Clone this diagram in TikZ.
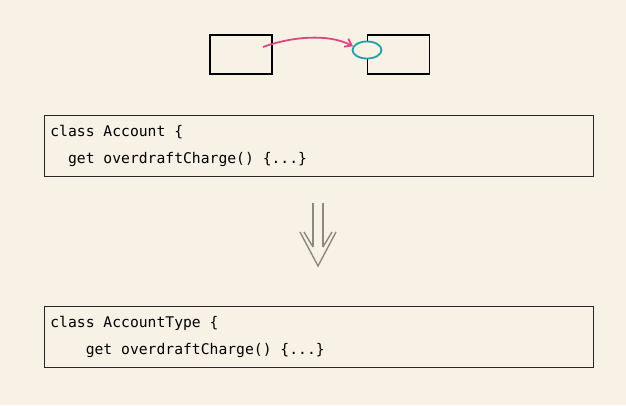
\documentclass[tikz,border=0pt]{standalone}
\usepackage{fontspec}
\setmonofont{DejaVu Sans Mono}
\usetikzlibrary{positioning,shapes.geometric,arrows.meta}
\definecolor{paper}{HTML}{F7F1E6}
\definecolor{linkpink}{HTML}{D9487E}
\definecolor{fieldteal}{HTML}{21A3A6}
\definecolor{movegray}{HTML}{8C8980}

\begin{document}
\begin{tikzpicture}[
      x=1pt, y=-1pt,
      node distance=94pt,
      objbox/.style={
        draw=black,
        line width=1.6pt,
        minimum width=62pt,
        minimum height=39pt,
        inner sep=0pt
      },
      field/.style={
        ellipse,
        draw=fieldteal,
        fill=paper,
        line width=1.8pt,
        minimum width=29pt,
        minimum height=17pt,
        inner sep=0pt
      },
      codebox/.style={
        draw=black!85,
        line width=0.8pt,
        minimum width=549pt,
        minimum height=61pt,
        text width=537pt,
        inner xsep=6pt,
        align=left,
        font=\ttfamily\fontsize{14.7}{27}\selectfont,
        execute at begin node={\spaceskip=0pt\xspaceskip=0pt\relax}
      },
      link/.style={-{Straight Barb[length=6pt,width=9pt]}, line width=1.8pt, draw=linkpink},
      movearrow/.style={draw=movegray, line width=1.4pt}
    ]
      \useasboundingbox[fill=paper] (0,0) rectangle (626,405);
      % objects
      \node[objbox] (src) at (241,54.5) {};
      \node[objbox, right=of src] (dst) {};
      \node[field] (fld) at (367,50) {};
      \coordinate (tail) at (263,47);
      \draw[link] (tail) .. controls (290,37) and (328,33) .. (fld.165);
      % code
      \node[codebox, anchor=north west] (before) at (44,115)
        {class Account \{\\\hphantom{xx}get overdraftCharge() \{...\}};
      \node[codebox, below=129pt of before] (after)
        {class AccountType \{\\\hphantom{xxxx}get overdraftCharge() \{...\}};
      % refactoring arrow
      \draw[movearrow] (313,203) -- (313,247) (323,203) -- (323,247);
      \draw[movearrow] (300,232) -- (318,266) -- (336,232);
      \draw[movearrow] (304,232) -- (313,247) (332,232) -- (323,247);
    \end{tikzpicture}
\end{document}
